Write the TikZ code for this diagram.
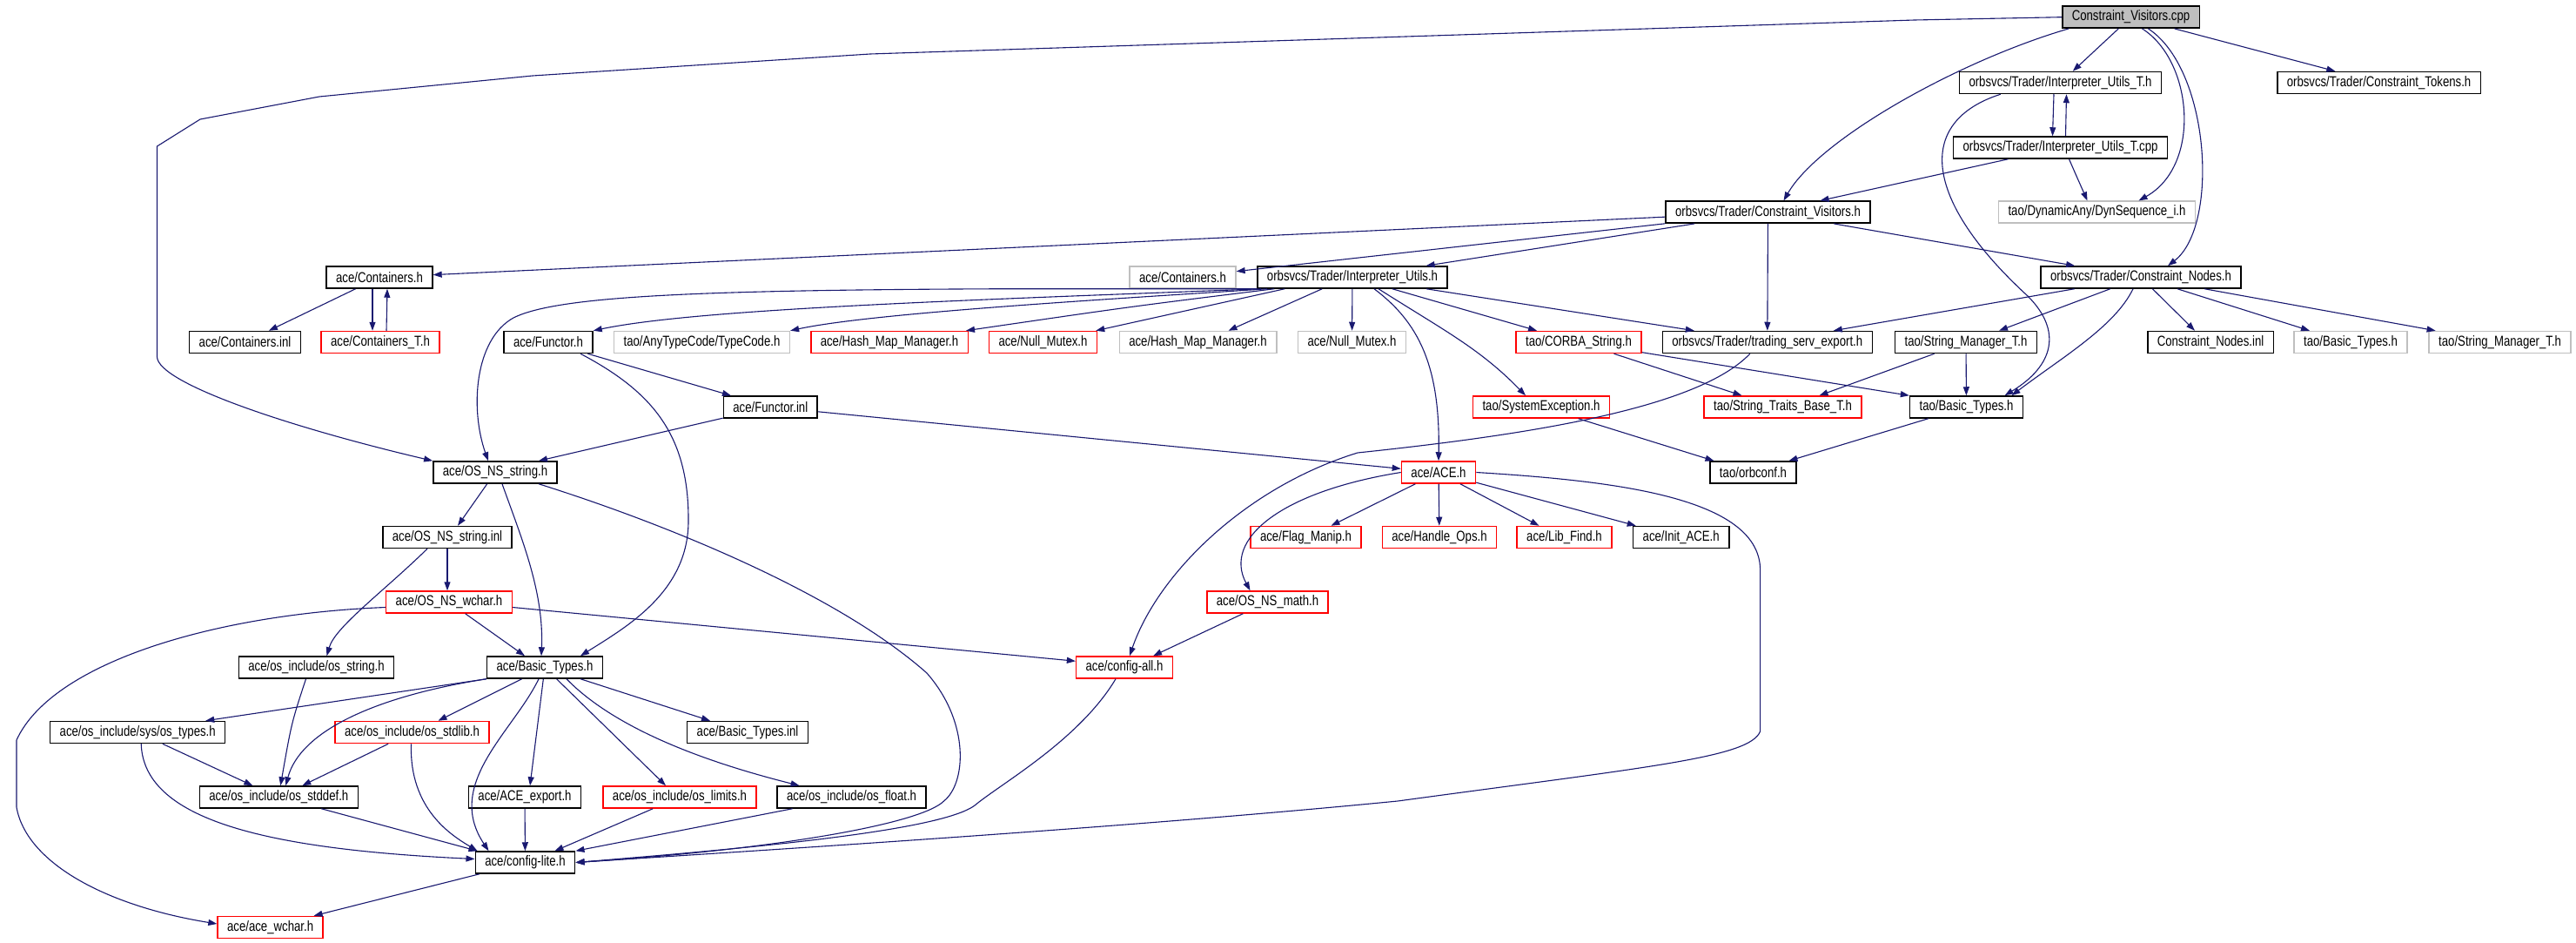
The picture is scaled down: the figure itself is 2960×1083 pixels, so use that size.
\documentclass[tikz,border=0pt]{standalone}
\usepackage{fontspec}
\setmainfont{Liberation Sans}[FakeStretch=0.8]
\usetikzlibrary{arrows.meta}

\definecolor{depblue}{HTML}{191970}
\definecolor{boxgray}{HTML}{BFBFBF}
\definecolor{boxred}{HTML}{FF0000}

\tikzset{
  file/.style={draw=black, line width=1.5pt, fill=white, inner xsep=11pt, inner ysep=0pt,
    minimum height=25pt, font=\fontsize{16.5}{18}\selectfont},
  redfile/.style={file, draw=boxred},
  grayfile/.style={file, draw=boxgray},
  dep/.style={depblue, line width=1.1pt, -{Triangle[length=10pt,width=7pt]}}
}

\begin{document}
\begin{tikzpicture}[x=1pt, y=-1pt]
\fill[white] (0,0) rectangle (2960,1083);

%% the files
\node[file, fill=boxgray] (cpp) at (2448.5,19.7) {Constraint\_Visitors.cpp};
\node[file] (iuth) at (2367.5,95) {orbsvcs/Trader/Interpreter\_Utils\_T.h};
\node[file] (ctok) at (2733.5,95) {orbsvcs/Trader/Constraint\_Tokens.h};
\node[file] (iutcpp) at (2367.5,169.5) {orbsvcs/Trader/Interpreter\_Utils\_T.cpp};
\node[file] (cvh) at (2031.5,243.7) {orbsvcs/Trader/Constraint\_Visitors.h};
\node[grayfile] (dynseq) at (2409.5,243.7) {tao/DynamicAny/DynSequence\_i.h};

\node[file] (conth) at (436,318.5) {ace/Containers.h};
\node[grayfile] (contg) at (1359,318.5) {ace/Containers.h};
\node[file] (iuh) at (1554,318.5) {orbsvcs/Trader/Interpreter\_Utils.h};
\node[file] (cnodes) at (2460,318.5) {orbsvcs/Trader/Constraint\_Nodes.h};

\node[file] (continl) at (281.5,393) {ace/Containers.inl};
\node[redfile] (contT) at (437,393) {ace/Containers\_T.h};
\node[file] (functorh) at (630,393) {ace/Functor.h};
\node[grayfile] (typecode) at (806.5,393) {tao/AnyTypeCode/TypeCode.h};
\node[redfile] (hashmap) at (1022,393) {ace/Hash\_Map\_Manager.h};
\node[redfile] (nullmutex) at (1198.5,393) {ace/Null\_Mutex.h};
\node[grayfile] (hashmapg) at (1376.5,393) {ace/Hash\_Map\_Manager.h};
\node[grayfile] (nullmutexg) at (1553.5,393) {ace/Null\_Mutex.h};
\node[redfile] (corbastr) at (1814,393) {tao/CORBA\_String.h};
\node[file] (tradexp) at (2030.8,393) {orbsvcs/Trader/trading\_serv\_export.h};
\node[file] (strmgr) at (2259,393) {tao/String\_Manager\_T.h};
\node[file] (cninl) at (2540,393) {Constraint\_Nodes.inl};
\node[grayfile] (btg) at (2701,393) {tao/Basic\_Types.h};
\node[grayfile] (strmgrg) at (2872.6,393) {tao/String\_Manager\_T.h};

\node[file] (functorinl) at (885.3,467.5) {ace/Functor.inl};
\node[redfile] (sysexc) at (1771,467.5) {tao/SystemException.h};
\node[redfile] (strtraits) at (2048.5,467.5) {tao/String\_Traits\_Base\_T.h};
\node[file] (taobt) at (2259.5,467.5) {tao/Basic\_Types.h};

\node[file] (osnsstr) at (569,542.5) {ace/OS\_NS\_string.h};
\node[redfile] (aceh) at (1653,542.5) {ace/ACE.h};
\node[file] (orbconf) at (2014.5,542.5) {tao/orbconf.h};

\node[file] (osnsinl) at (514,617) {ace/OS\_NS\_string.inl};
\node[redfile] (flagmanip) at (1500.5,617) {ace/Flag\_Manip.h};
\node[redfile] (handleops) at (1654,617) {ace/Handle\_Ops.h};
\node[redfile] (libfind) at (1797.5,617) {ace/Lib\_Find.h};
\node[file] (initace) at (1931.7,617) {ace/Init\_ACE.h};

\node[redfile] (wchar) at (516,691.5) {ace/OS\_NS\_wchar.h};
\node[redfile] (osnsmath) at (1456.5,691.5) {ace/OS\_NS\_math.h};

\node[file] (osstring) at (363.5,766.5) {ace/os\_include/os\_string.h};
\node[file] (acebt) at (626,766.5) {ace/Basic\_Types.h};
\node[redfile] (cfgall) at (1292,766.5) {ace/config-all.h};

\node[file] (ostypes) at (158.2,841) {ace/os\_include/sys/os\_types.h};
\node[redfile] (osstdlib) at (473.5,841) {ace/os\_include/os\_stdlib.h};
\node[file] (btinl) at (859,841) {ace/Basic\_Types.inl};

\node[file] (osstddef) at (320.3,915.5) {ace/os\_include/os\_stddef.h};
\node[file] (aceexport) at (603,915.5) {ace/ACE\_export.h};
\node[redfile] (oslimits) at (781,915.5) {ace/os\_include/os\_limits.h};
\node[file] (osfloat) at (978.6,915.5) {ace/os\_include/os\_float.h};

\node[file] (cfglite) at (603.5,990.5) {ace/config-lite.h};
\node[redfile] (acewchar) at (310.6,1065) {ace/ace\_wchar.h};

%% Constraint_Visitors.cpp
\draw[dep] (cpp.west) -- (2200,23) -- (1000,62) -- (612,87) -- (367,111) -- (230,137) -- (180.5,168)
  -- (180.5,410) .. controls (182,440) and (330,490) .. (osnsstr.north west);
\draw[dep] (cpp) -- (iuth);
\draw[dep] ([xshift=8pt]cpp.south west) .. controls (2250,70) and (2090,160) .. ([xshift=18pt]cvh.north);
\draw[dep] ([xshift=13pt]cpp.south) .. controls (2520,70) and (2530,190) .. ([xshift=48pt]dynseq.north);
\draw[dep] ([xshift=20pt]cpp.south) .. controls (2540,80) and (2550,260) .. ([xshift=31pt]cnodes.north);
\draw[dep] (cpp) -- (ctok);

%% Interpreter_Utils_T
\draw[dep] ([xshift=-7.5pt]iuth.south) -- ([xshift=-9pt]iutcpp.north);
\draw[dep] ([xshift=6pt]iutcpp.north) -- ([xshift=7pt]iuth.south);
\draw[dep] ([xshift=48pt]iuth.south west) .. controls (2200,140) and (2210,230) .. (2330,340)
  .. controls (2370,380) and (2360,420) .. ([xshift=44pt]taobt.north);
\draw[dep] (iutcpp) -- (cvh);
\draw[dep] ([xshift=10pt]iutcpp.south) .. controls (2385,200) .. ([xshift=-11pt]dynseq.north);

%% Constraint_Visitors.h
\draw[dep] (cvh) -- (conth);
\draw[dep] (cvh) -- (contg);
\draw[dep] (cvh) -- (iuh);
\draw[dep] (cvh) -- (tradexp);
\draw[dep] (cvh) -- (cnodes);

%% Interpreter_Utils.h
\draw[dep] (iuh.south west) -- (1161,331.7) .. controls (800,333) and (640,340) .. (590,365)
  .. controls (545,390) and (540,470) .. ([xshift=-8pt]osnsstr.north);
\draw[dep] ([xshift=5pt]iuh.south west) .. controls (1100,345) and (800,355) .. (functorh.north east);
\draw[dep] ([xshift=12pt]iuh.south west) .. controls (1250,345) and (1000,360) .. (typecode.north east);
\draw[dep] ([xshift=20pt]iuh.south west) .. controls (1300,352) .. ([xshift=-3pt]hashmap.north east);
\draw[dep] ([xshift=32pt]iuh.south west) -- ([xshift=-2pt]nullmutex.north east);
\draw[dep] ([xshift=75pt]iuh.south west) -- ([xshift=35pt]hashmapg.north);
\draw[dep] (iuh) -- (nullmutexg);
\draw[dep] ([xshift=25pt]iuh.south) .. controls (1630,370) and (1655,420) .. (aceh.north);
\draw[dep] ([xshift=30pt]iuh.south) .. controls (1660,380) and (1700,400) .. ([xshift=-18pt]sysexc.north);
\draw[dep] (iuh) -- ([xshift=-48pt]corbastr.north);
\draw[dep] (iuh) -- ([xshift=-84pt]tradexp.north);

%% Constraint_Nodes.h
\draw[dep] (cnodes) -- ([xshift=76pt]tradexp.north);
\draw[dep] (cnodes) -- ([xshift=38pt]strmgr.north);
\draw[dep] ([xshift=-9pt]cnodes.south) .. controls (2430,375) and (2370,410) .. ([xshift=52pt]taobt.north);
\draw[dep] (cnodes) -- ([xshift=-18pt]cninl.north);
\draw[dep] (cnodes) -- ([xshift=-47pt]btg.north);
\draw[dep] (cnodes) -- ([xshift=-74pt]strmgrg.north);

%% Containers
\draw[dep] (conth) -- (continl);
\draw[dep] ([xshift=-8pt]conth.south) -- ([xshift=-9pt]contT.north);
\draw[dep] ([xshift=7pt]contT.north) -- ([xshift=9pt]conth.south);

%% Functor
\draw[dep] (functorh) -- (functorinl);
\draw[dep] ([xshift=37pt]functorh.south) .. controls (750,450) and (792,500) .. (791,600)
  .. controls (790,680) and (720,720) .. ([xshift=41pt]acebt.north);
\draw[dep] (functorinl) -- ([xshift=50pt]osnsstr.north);
\draw[dep] (functorinl) -- (aceh);

%% tao
\draw[dep] (corbastr) -- ([xshift=-47pt]strtraits.north);
\draw[dep] (corbastr) -- (taobt.north west);
\draw[dep] ([xshift=-20pt]tradexp.south) .. controls (1950,470) and (1750,500) .. (1560,520)
  .. controls (1430,560) and (1330,660) .. ([xshift=6pt]cfgall.north);
\draw[dep] (strmgr) -- ([xshift=42pt]strtraits.north);
\draw[dep] (strmgr) -- (taobt);
\draw[dep] (sysexc) -- ([xshift=-45pt]orbconf.north);
\draw[dep] (taobt) -- ([xshift=41pt]orbconf.north);

%% ACE.h
\draw[dep] (aceh) -- ([xshift=29pt]flagmanip.north);
\draw[dep] (aceh) -- (handleops);
\draw[dep] (aceh) -- ([xshift=-29pt]libfind.north);
\draw[dep] (aceh) -- ([xshift=-52pt]initace.north);
\draw[dep] (aceh.west) .. controls (1470,565) and (1405,620) .. ([xshift=-20pt]osnsmath.north);
\draw[dep] (aceh.east) .. controls (1850,552) and (2020,570) .. (2022.6,653) -- (2022.6,840)
  .. controls (2010,870) and (1900,880) .. (1606,920) .. controls (1300,950) and (900,975) .. (cfglite.east);

%% OS_NS_string and OS_NS_wchar
\draw[dep] (osnsstr) -- ([xshift=12pt]osnsinl.north);
\draw[dep] ([xshift=8pt]osnsstr.south) .. controls (600,620) and (625,680) .. ([xshift=-4pt]acebt.north);
\draw[dep] ([xshift=50pt]osnsstr.south) .. controls (760,600) and (960,680) .. (1065,773)
  .. controls (1115,830) and (1110,900) .. (1084.5,920) .. controls (1060,945) and (900,975) .. (cfglite.east);
\draw[dep] (osnsinl) -- ([xshift=-2pt]wchar.north);
\draw[dep] ([xshift=-23pt]osnsinl.south) .. controls (440,680) and (385,720) .. ([xshift=12pt]osstring.north);
\draw[dep] (wchar) -- ([xshift=-23pt]acebt.north);
\draw[dep] ([yshift=-6pt]wchar.east) -- ([yshift=-6pt]cfgall.north west);
\draw[dep] ([yshift=-6pt]wchar.west) .. controls (250,705) and (60,760) .. (19,850) -- (19,927)
  .. controls (30,990) and (120,1040) .. ([yshift=4pt]acewchar.west);
\draw[dep] (osnsmath) -- ([xshift=33pt]cfgall.north);
\draw[dep] ([xshift=-10pt]cfgall.south) .. controls (1240,850) and (1150,900) .. (1120,925)
  .. controls (1080,955) and (850,975) .. (cfglite.east);

%% ace/Basic_Types.h and the os_include files
\draw[dep] ([xshift=-12pt]osstring.south) .. controls (335,830) .. ([xshift=2pt]osstddef.north);
\draw[dep] (acebt.south west) -- ([xshift=78pt]ostypes.north);
\draw[dep] (acebt.south west) .. controls (430,800) and (345,840) .. ([xshift=8pt]osstddef.north);
\draw[dep] (acebt) -- ([xshift=30pt]osstdlib.north);
\draw[dep] (acebt) -- ([xshift=-43pt]btinl.north);
\draw[dep] (acebt) -- ([xshift=6pt]aceexport.north);
\draw[dep] (acebt) -- ([xshift=-16pt]oslimits.north);
\draw[dep] ([xshift=25pt]acebt.south) .. controls (700,830) and (790,870) .. ([xshift=-60pt]osfloat.north);
\draw[dep] ([xshift=-7pt]acebt.south) .. controls (590,840) and (510,900) .. ([xshift=-42pt]cfglite.north);
\draw[dep] (ostypes) -- ([xshift=-30pt]osstddef.north);
\draw[dep] ([xshift=4pt]ostypes.south) .. controls (165,940) and (300,975) .. ([yshift=4pt]cfglite.west);
\draw[dep] (osstdlib) -- ([xshift=27pt]osstddef.north);
\draw[dep] ([xshift=-1pt]osstdlib.south) .. controls (470,930) and (520,960) .. ([xshift=-55pt]cfglite.north);
\draw[dep] (osstddef) -- ([xshift=-55pt]cfglite.north);
\draw[dep] (aceexport) -- (cfglite);
\draw[dep] (oslimits) -- ([xshift=34pt]cfglite.north);
\draw[dep] (osfloat) -- (cfglite.north east);
\draw[dep] (cfglite) -- ([xshift=50pt]acewchar.north);
\end{tikzpicture}
\end{document}
